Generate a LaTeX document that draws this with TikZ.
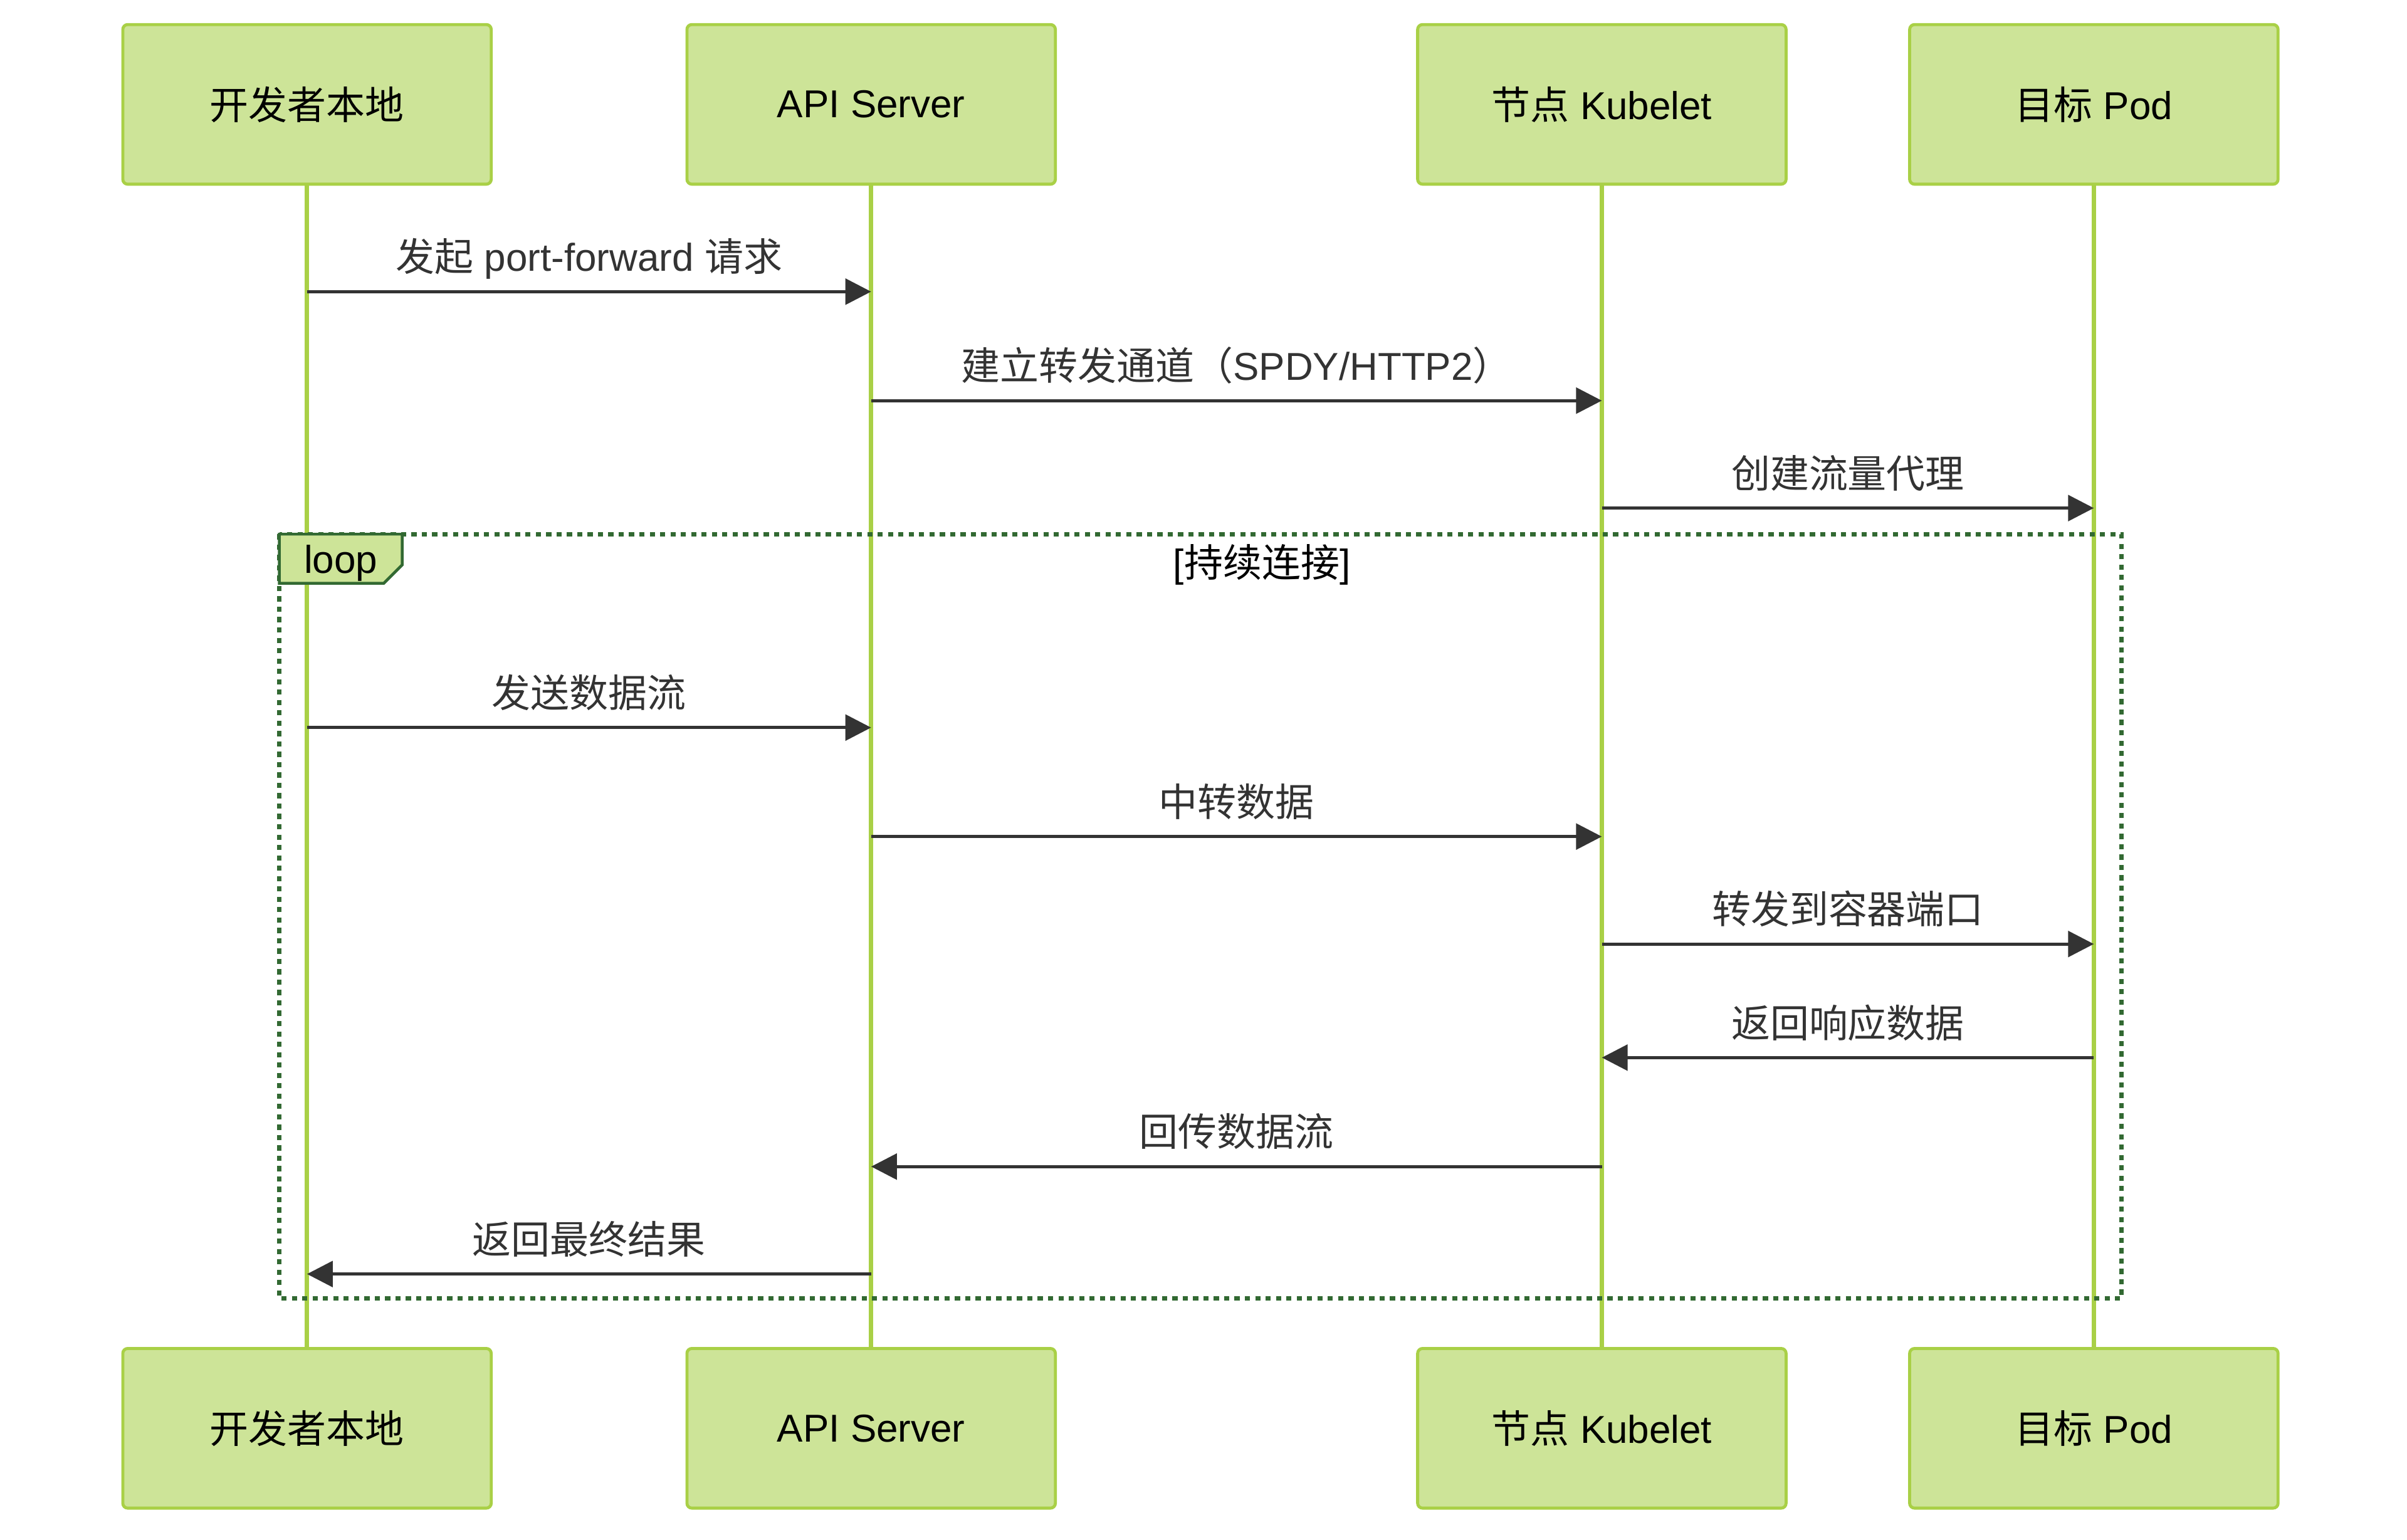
\documentclass[tikz,border=0pt]{standalone}
\usepackage{fontspec}
\setmainfont{Liberation Sans}
\newfontfamily\zh{Noto Sans CJK SC}
\usetikzlibrary{arrows.meta}

\definecolor{actorfill}{HTML}{CDE498}
\definecolor{lifegreen}{HTML}{A9D046}
\definecolor{loopgreen}{HTML}{326932}
\definecolor{arrowgray}{HTML}{333333}

\tikzset{
  actor/.style={draw=lifegreen, line width=1.4pt, fill=actorfill, rounded corners=0.8mm,
    minimum width=60mm, minimum height=26mm, text=black, font=\fontsize{18pt}{21pt}\selectfont},
  lifeline/.style={draw=lifegreen, line width=2.1pt},
  msg/.style={draw=arrowgray, line width=1.5pt, -{Triangle[length=4.2mm,width=4.2mm]}},
  msglabel/.style={text=arrowgray, anchor=base, yshift=3.3mm, font=\fontsize{18pt}{21pt}\selectfont},
  loopframe/.style={draw=loopgreen, line width=2pt, dash pattern=on 2.4pt off 2.4pt},
  looptab/.style={draw=loopgreen, line width=1.3pt, fill=actorfill}
}

\begin{document}
\begin{tikzpicture}[x=0.25mm, y=-0.25mm]
\useasboundingbox (0,0) rectangle (1568,1003);

% participants, top and bottom
\foreach \n/\x/\t in {dev/200/{\zh 开发者本地}, api/567.5/{API Server},
    kub/1043.5/{{\zh 节点} Kubelet}, pod/1364/{{\zh 目标} Pod}}
{
  \node[actor] (\n) at (\x,68) {\t};
  \node[actor] (\n2) at (\x,930.5) {\t};
  \draw[lifeline] (\n.south) -- (\n2.north);
}

% loop frame
\draw[loopframe] (182,348) rectangle (1382,846);
\draw[looptab] (182,348) -- (262,348) -- (262,368) -- (250,380) -- (182,380) -- cycle;
\node[font=\fontsize{18pt}{21pt}\selectfont] (loop) at (222,367) {loop};
\node[font=\fontsize{18pt}{21pt}\selectfont] (cond) at (822,368) {[{\zh 持续连接}]};

% messages
\foreach \a/\b/\y/\t in {dev/api/190/{{\zh 发起} port-forward {\zh 请求}},
    api/kub/261/{{\zh 建立转发通道（}SPDY/HTTP2{\zh ）}},
    kub/pod/331/{\zh 创建流量代理},
    dev/api/474/{\zh 发送数据流},
    api/kub/545/{\zh 中转数据},
    kub/pod/615/{\zh 转发到容器端口},
    pod/kub/689/{\zh 返回响应数据},
    kub/api/760/{\zh 回传数据流},
    api/dev/830/{\zh 返回最终结果}}
{
  \draw[msg] (\a |- 0,\y) -- (\b |- 0,\y) node[msglabel, midway] {\t};
}
\end{tikzpicture}
\end{document}
